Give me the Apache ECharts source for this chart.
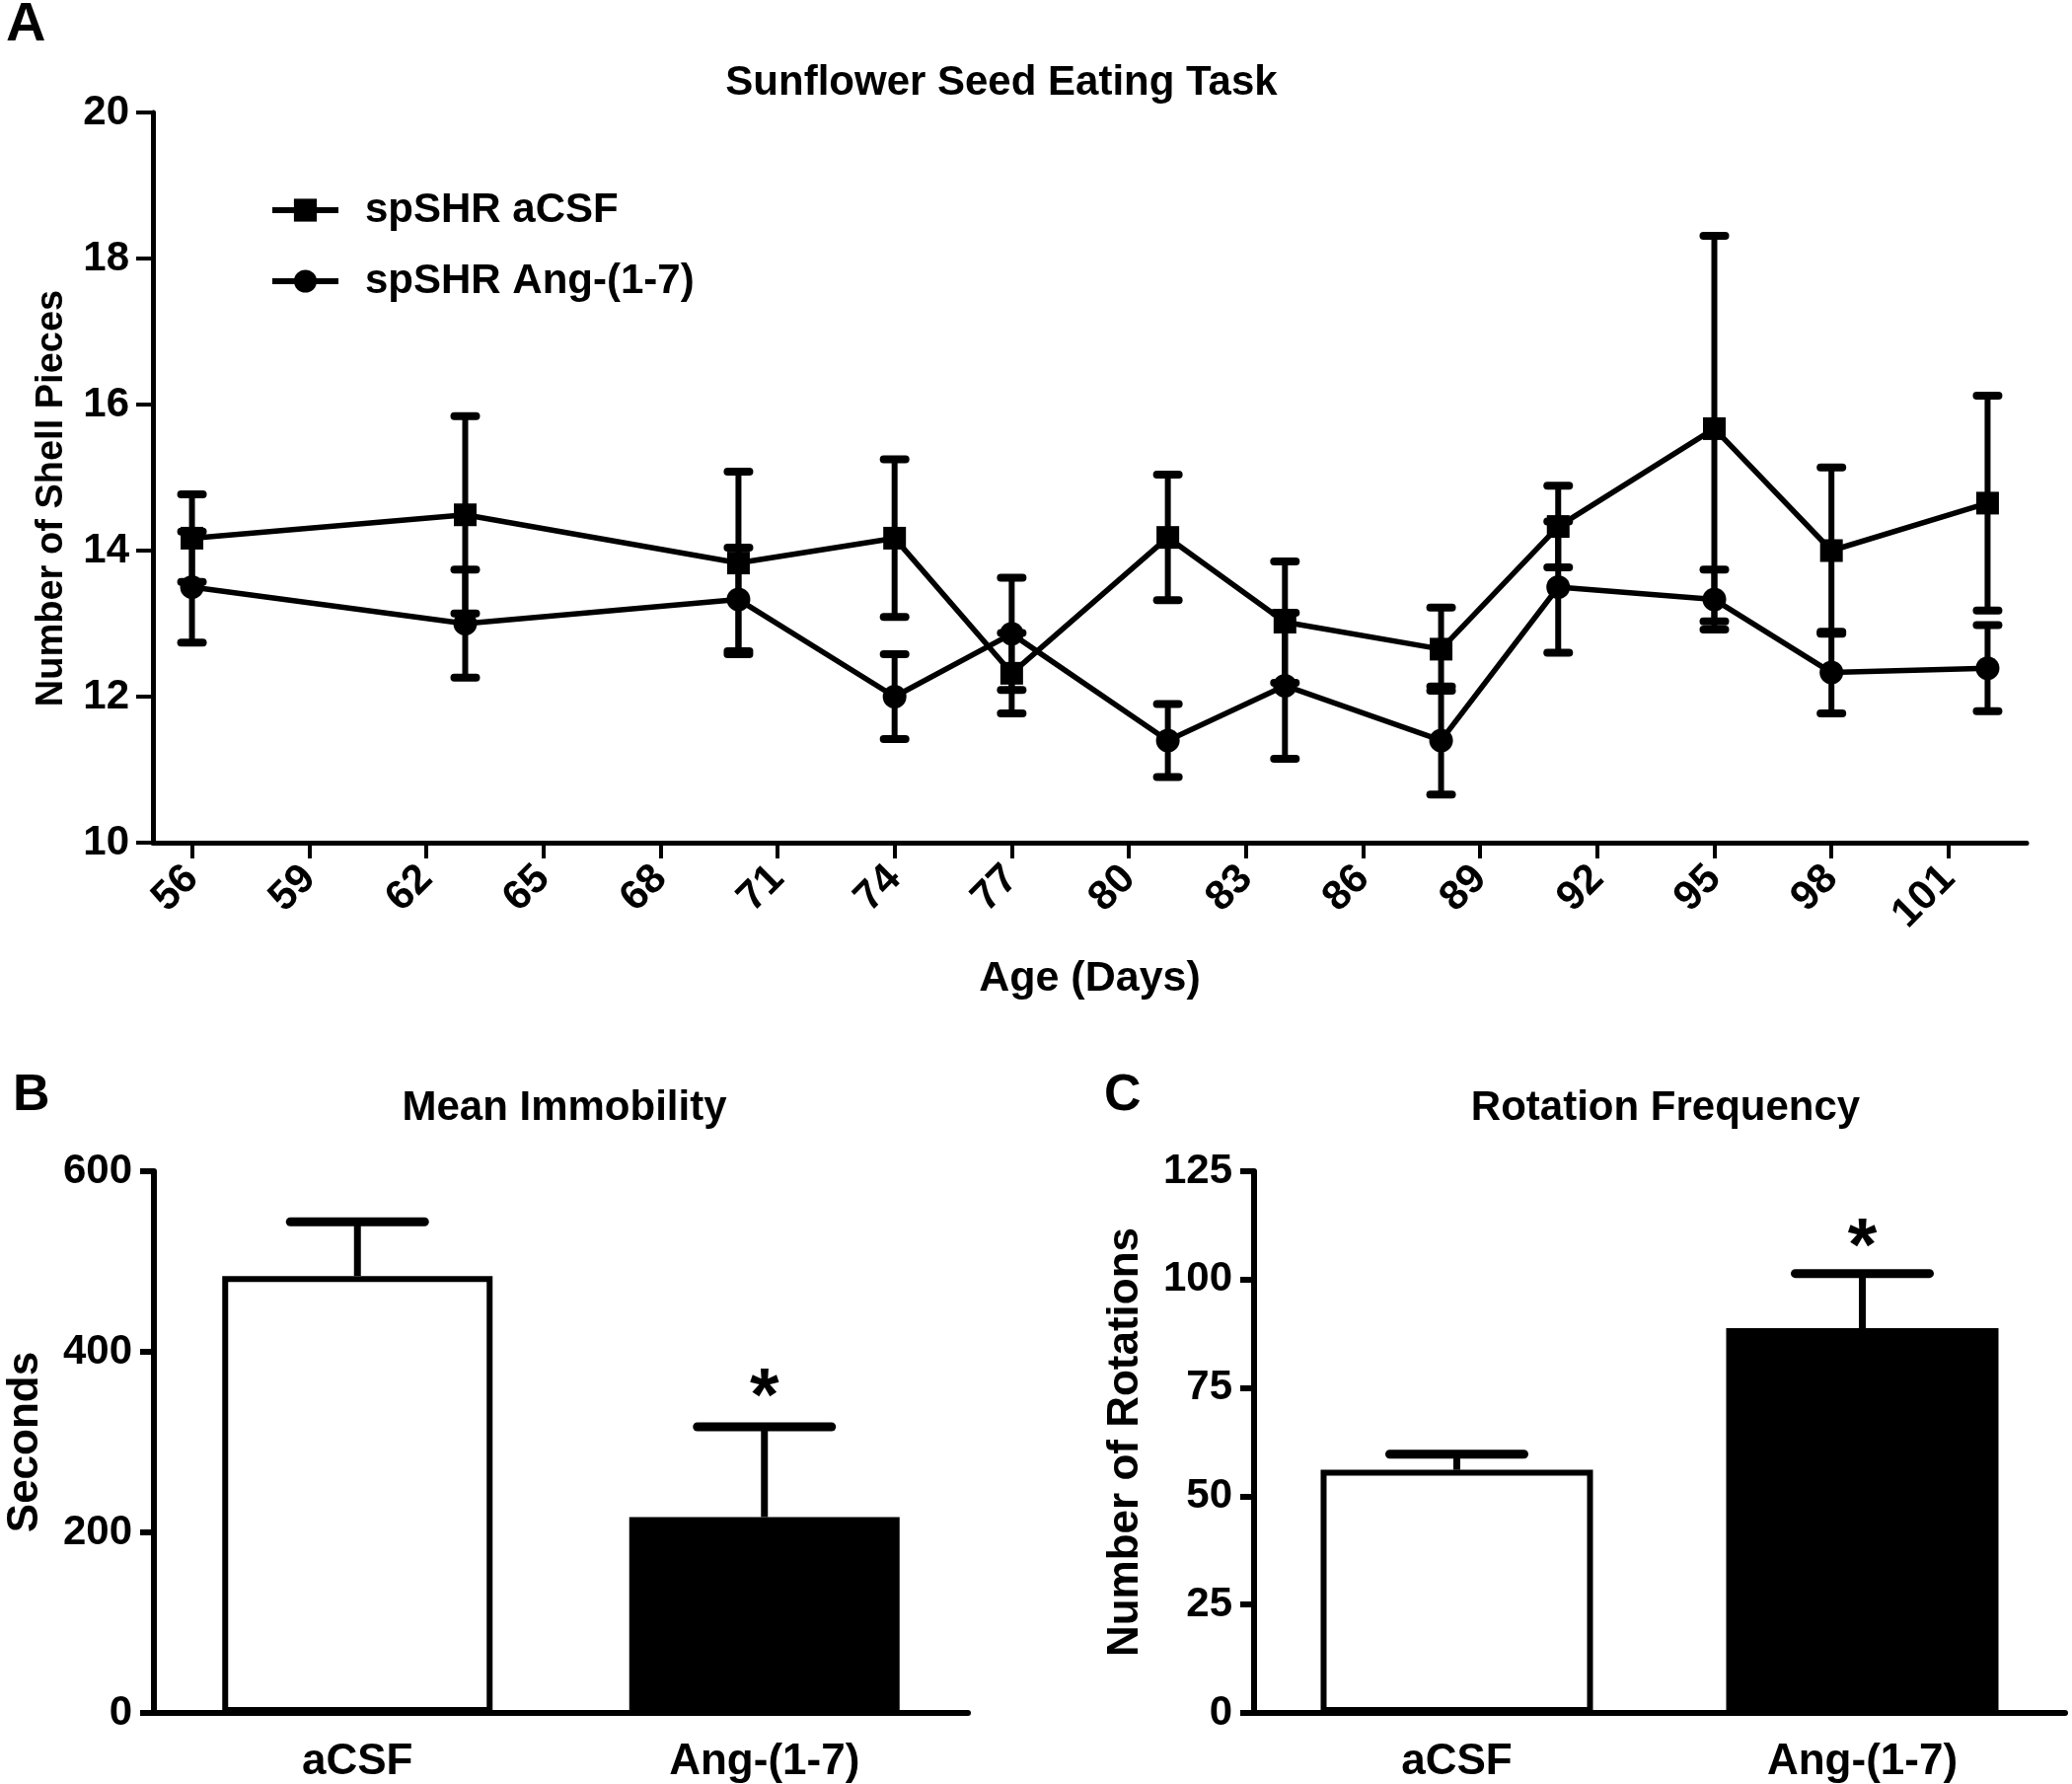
<!DOCTYPE html>
<html><head><meta charset="utf-8">
<script src="https://cdn.jsdelivr.net/npm/echarts@6/dist/echarts.min.js"></script>
<style>html,body{margin:0;padding:0;background:#fff}#c{width:2100px;height:1808px}</style>
</head><body><div id="c"></div>
<script>
// ---- Panel A data ----
const days = [56, 63, 70, 74, 77, 81, 84, 88, 91, 95, 98, 102];
const acsfMean = [14.17, 14.49, 13.83, 14.17, 12.32, 14.18, 13.02, 12.65, 14.33, 15.67, 14.0, 14.65];
const acsfSem  = [0.60, 1.35, 1.25, 1.08, 0.55, 0.86, 0.83, 0.57, 0.56, 2.64, 1.14, 1.47];
const angMean  = [13.50, 13.00, 13.33, 12.00, 12.86, 11.40, 12.15, 11.40, 13.50, 13.33, 12.33, 12.39];
const angSem   = [0.76, 0.74, 0.71, 0.58, 0.77, 0.50, 1.00, 0.74, 0.90, 0.41, 0.56, 0.59];
const xTicks = [56, 59, 62, 65, 68, 71, 74, 77, 80, 83, 86, 89, 92, 95, 98, 101];
const seriesNames = ['spSHR aCSF', 'spSHR Ang-(1-7)'];

// ---- Panels B and C data ----
const groups = ['aCSF', 'Ang-(1-7)'];
const immobMean = [484, 217];
const immobSem  = [60, 100];
const immobStar = [null, 347];
const rotMean = [56.1, 88.8];
const rotSem  = [3.6, 12.6];
const rotStar = [null, 107];

const FONT = '"Liberation Sans", Arial, Helvetica, sans-serif';
const txt = (size) => ({ fontFamily: FONT, fontWeight: 'bold', fontSize: size, color: '#000' });

function errA(params, api) {
  const x = api.value(0), lo = api.value(1), hi = api.value(2);
  const p1 = api.coord([x, lo]), p2 = api.coord([x, hi]);
  const hw = 11;
  return { type: 'group', children: [
    { type: 'line', shape: { x1: p1[0], y1: p1[1], x2: p2[0], y2: p2[1] }, style: { stroke: '#000', lineWidth: 6 } },
    { type: 'line', shape: { x1: p1[0] - hw, y1: p1[1], x2: p1[0] + hw, y2: p1[1] }, style: { stroke: '#000', lineWidth: 8, lineCap: 'round' } },
    { type: 'line', shape: { x1: p2[0] - hw, y1: p2[1], x2: p2[0] + hw, y2: p2[1] }, style: { stroke: '#000', lineWidth: 8, lineCap: 'round' } }
  ]};
}
function errBar(params, api) {
  const i = api.value(0), m = api.value(1), hi = api.value(2);
  const p1 = api.coord([i, m]), p2 = api.coord([i, hi]);
  const hw = 68;
  return { type: 'group', children: [
    { type: 'line', shape: { x1: p1[0], y1: p1[1], x2: p2[0], y2: p2[1] }, style: { stroke: '#000', lineWidth: 7 } },
    { type: 'line', shape: { x1: p2[0] - hw, y1: p2[1], x2: p2[0] + hw, y2: p2[1] }, style: { stroke: '#000', lineWidth: 9, lineCap: 'round' } }
  ]};
}
function star(params, api) {
  const p = api.coord([api.value(0), api.value(1)]);
  return { type: 'text', x: p[0], y: p[1], style: { text: '*', font: 'bold 76px ' + FONT, fill: '#000', align: 'center', verticalAlign: 'middle' } };
}

const errDataA = (mean, sem) => days.map((d, i) => [d, mean[i] - sem[i], mean[i] + sem[i]]);
const errDataBar = (mean, sem) => mean.map((m, i) => [i, m, m + sem[i]]);
const starData = (s) => s.map((v, i) => v == null ? null : [i, v]).filter(v => v);

const axisLineA = { lineStyle: { color: '#000', width: 5 } };
const axisLineB = { lineStyle: { color: '#000', width: 6 } };

const option = {
  animation: false,
  backgroundColor: '#fff',
  title: [
    { text: 'A', left: 1, top: -7, textStyle: txt(56) },
    { text: 'Sunflower Seed Eating Task', left: 1010, top: 58, textAlign: 'center', textStyle: txt(42) },
    { text: 'B', left: 8, top: 1080, textStyle: txt(52) },
    { text: 'Mean Immobility', left: 567, top: 1097, textAlign: 'center', textStyle: txt(42) },
    { text: 'C', left: 1114, top: 1080, textStyle: txt(52) },
    { text: 'Rotation Frequency', left: 1683, top: 1097, textAlign: 'center', textStyle: txt(42) }
  ],
  legend: {
    data: seriesNames,
    orient: 'vertical', left: 268, top: 187,
    itemWidth: 67, itemHeight: 29, itemGap: 30,
    lineStyle: { width: 6 },
    textStyle: Object.assign(txt(42), { padding: [0, 0, 0, 22] })
  },
  grid: [
    { left: 155, top: 114, width: 1899, height: 740 },
    { left: 156, top: 1187, width: 825, height: 549 },
    { left: 1271, top: 1187, width: 822, height: 549 }
  ],
  xAxis: [
    { gridIndex: 0, type: 'value', min: 55, max: 103,
      axisLine: axisLineA, splitLine: { show: false },
      axisTick: { customValues: xTicks, length: 16, lineStyle: { color: '#000', width: 4 } },
      axisLabel: Object.assign(txt(42), { customValues: xTicks, rotate: 45, margin: 30 }),
      name: 'Age (Days)', nameLocation: 'middle', nameGap: 117, nameTextStyle: txt(43) },
    { gridIndex: 1, type: 'category', data: groups,
      axisLine: axisLineB,
      axisTick: { alignWithLabel: true, length: 15, lineStyle: { color: '#000', width: 6 } },
      axisLabel: Object.assign(txt(44), { margin: 28 }) },
    { gridIndex: 2, type: 'category', data: groups,
      axisLine: axisLineB,
      axisTick: { alignWithLabel: true, length: 15, lineStyle: { color: '#000', width: 6 } },
      axisLabel: Object.assign(txt(44), { margin: 28 }) }
  ],
  yAxis: [
    { gridIndex: 0, type: 'value', min: 10, max: 20, interval: 2,
      axisLine: Object.assign({ show: true }, axisLineA), splitLine: { show: false },
      axisTick: { show: true, length: 17, lineStyle: { color: '#000', width: 4 } },
      axisLabel: Object.assign(txt(42), { margin: 24 }),
      name: 'Number of Shell Pieces', nameLocation: 'middle', nameGap: 83,
      nameTextStyle: Object.assign(txt(38), { padding: [0, 42, 0, 0] }) },
    { gridIndex: 1, type: 'value', min: 0, max: 600, interval: 200,
      axisLine: Object.assign({ show: true }, axisLineB), splitLine: { show: false },
      axisTick: { show: true, length: 14, lineStyle: { color: '#000', width: 6 } },
      axisLabel: Object.assign(txt(42), { margin: 22 }),
      name: 'Seconds', nameLocation: 'middle', nameGap: 108, nameTextStyle: txt(44) },
    { gridIndex: 2, type: 'value', min: 0, max: 125, interval: 25,
      axisLine: Object.assign({ show: true }, axisLineB), splitLine: { show: false },
      axisTick: { show: true, length: 14, lineStyle: { color: '#000', width: 6 } },
      axisLabel: Object.assign(txt(42), { margin: 22 }),
      name: 'Number of Rotations', nameLocation: 'middle', nameGap: 108, nameTextStyle: txt(44) }
  ],
  series: [
    { type: 'custom', xAxisIndex: 0, yAxisIndex: 0, renderItem: errA, data: errDataA(acsfMean, acsfSem), z: 2, silent: true },
    { type: 'custom', xAxisIndex: 0, yAxisIndex: 0, renderItem: errA, data: errDataA(angMean, angSem), z: 2, silent: true },
    { name: seriesNames[0], type: 'line', xAxisIndex: 0, yAxisIndex: 0,
      data: days.map((d, i) => [d, acsfMean[i]]),
      symbol: 'rect', symbolSize: 23, showAllSymbol: true,
      lineStyle: { color: '#000', width: 5.5 }, itemStyle: { color: '#000' }, z: 3 },
    { name: seriesNames[1], type: 'line', xAxisIndex: 0, yAxisIndex: 0,
      data: days.map((d, i) => [d, angMean[i]]),
      symbol: 'circle', symbolSize: 24, showAllSymbol: true,
      lineStyle: { color: '#000', width: 5.5 }, itemStyle: { color: '#000' }, z: 3 },

    { type: 'bar', xAxisIndex: 1, yAxisIndex: 1, barWidth: 274,
      data: immobMean.map((v, i) => ({ value: v, itemStyle: { color: i === 0 ? '#fff' : '#000' } })),
      itemStyle: { borderColor: '#000', borderWidth: 6 }, z: 2 },
    { type: 'custom', xAxisIndex: 1, yAxisIndex: 1, renderItem: errBar, data: errDataBar(immobMean, immobSem), z: 1, silent: true },
    { type: 'custom', xAxisIndex: 1, yAxisIndex: 1, renderItem: star, data: starData(immobStar), z: 3, silent: true },

    { type: 'bar', xAxisIndex: 2, yAxisIndex: 2, barWidth: 276,
      data: rotMean.map((v, i) => ({ value: v, itemStyle: { color: i === 0 ? '#fff' : '#000' } })),
      itemStyle: { borderColor: '#000', borderWidth: 6 }, z: 2 },
    { type: 'custom', xAxisIndex: 2, yAxisIndex: 2, renderItem: errBar, data: errDataBar(rotMean, rotSem), z: 1, silent: true },
    { type: 'custom', xAxisIndex: 2, yAxisIndex: 2, renderItem: star, data: starData(rotStar), z: 3, silent: true }
  ]
};
const chart = echarts.init(document.getElementById('c'), null, { renderer: 'canvas' });
chart.setOption(option);
</script>
</body></html>
